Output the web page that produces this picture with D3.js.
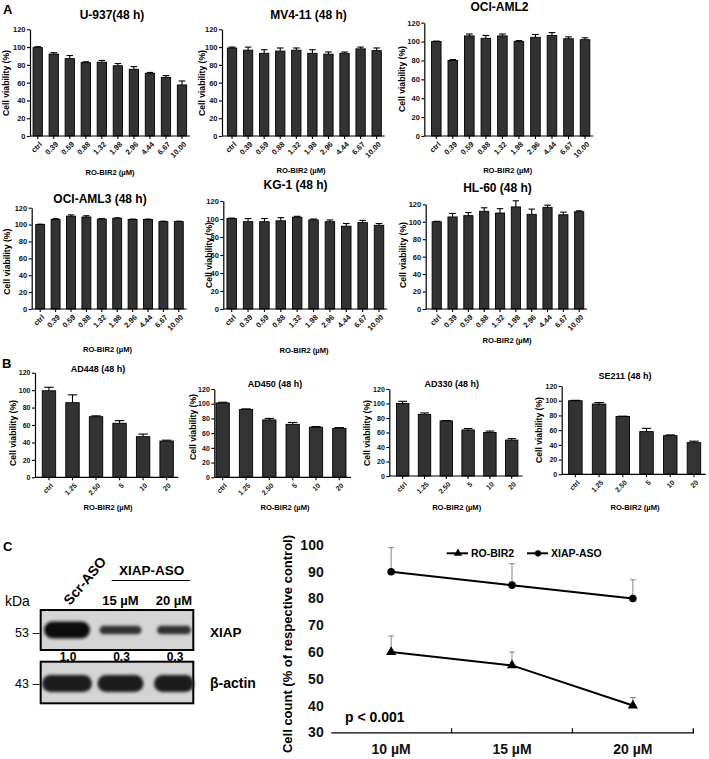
<!DOCTYPE html>
<html><head><meta charset="utf-8">
<script src="https://cdn.jsdelivr.net/npm/d3@7"></script>
<style>body{margin:0;background:#fff}svg{display:block;font-family:"Liberation Sans",Arial,sans-serif}</style>
</head><body><svg id="c" width="709" height="759"></svg>
<script>
// ---------- DATA ----------
const concA = ["ctrl","0.39","0.59","0.88","1.32","1.98","2.96","4.44","6.67","10.00"];
const concB = ["ctrl","1.25","2.50","5","10","20"];
const yTicksBar = [0,20,40,60,80,100,120];

const u937 = [99.4,92.2,87,82.5,83,79,75,70.5,66,57.4];
const u937Err = [1,1.5,3.5,1,2,2.5,3,1,2,4.5];
const mv411 = [99,96.5,93,95.5,96.5,93,92,93,98,96];
const mv411Err = [1,3.5,4,3.5,2.5,4,2.5,1.5,2,3];
const ociAml2 = [100,80,106,103.5,106,100,104.5,106.5,103,102];
const ociAml2Err = [0.5,1,2,3,2,1,3,3,2,2];
const ociAml3 = [100,106,110,109,106.5,107.5,106,106,103.5,103.5];
const ociAml3Err = [0.5,1,1.5,1.5,0.5,0.5,0.5,0.5,0.5,0.5];
const kg1 = [100.5,97,97,98,102,99,97,92,96,93];
const kg1Err = [0.5,3.5,3.5,3.5,1,1,2,3,2.5,2];
const hl60 = [100,105.5,107,112,110,117,108.5,116.5,108,111.5];
const hl60Err = [0.5,4,3.5,4,5,7,6,2.5,3,1];

const ad448 = [99.3,85.6,69.5,62,46.6,41.6];
const ad448Err = [4,9,1,3,3,1];
const ad450 = [101,92,78,72,68,66.5];
const ad450Err = [1,1,2,2.5,1,1];
const ad330 = [100,85,76,63.5,60,49.5];
const ad330Err = [3,2,0.5,2,2,2];
const se211 = [100,95.5,78.5,58,52.5,43];
const se211Err = [0.5,2,0.5,4.5,1,2];

const doseC = ["10 µM","15 µM","20 µM"];
const roBir2 = [60,55,40];
const roBir2Err = [6,5,3];
const xiapAso = [90,85,80];
const xiapAsoErr = [9,8,7];
const yTicksC = [30,40,50,60,70,80,90,100];

const blotLanes = ["Scr-ASO","15 µM","20 µM"];
const xiapLevel = [1.0,0.3,0.3];
const xiapLabels = ["1.0","0.3","0.3"];
const actinLevel = [1.0,1.0,1.0];

// ---------- DRAW ----------
const svg = d3.select("#c");
svg.append("rect").attr("width",709).attr("height",759).attr("fill","#fff");
const defs = svg.append("defs");
defs.append("filter").attr("id","blur").attr("x","-30%").attr("y","-80%").attr("width","160%").attr("height","260%")
  .append("feGaussianBlur").attr("stdDeviation",1.6);

function barChart(o){
  const g = svg.append("g");
  const y = d3.scaleLinear().domain([0,120]).range([o.y0,o.y120]);
  const x = d3.scaleBand().domain(o.cats).range([o.xs,o.xe]).paddingInner(o.pad).paddingOuter(o.pad/2);
  const bw = x.bandwidth();
  const eg = g.append("g").attr("stroke","#000").attr("stroke-width",1.1);
  o.vals.forEach((v,i)=>{
    const cx = x(o.cats[i]) + bw/2;
    eg.append("line").attr("x1",cx).attr("x2",cx).attr("y1",y(v)).attr("y2",y(v+o.errs[i]));
    eg.append("line").attr("x1",cx-bw*0.35).attr("x2",cx+bw*0.35).attr("y1",y(v+o.errs[i])).attr("y2",y(v+o.errs[i]));
  });
  g.selectAll("rect.bar").data(o.vals).join("rect").attr("class","bar")
    .attr("x",(d,i)=>x(o.cats[i])).attr("y",d=>y(d))
    .attr("width",bw).attr("height",d=>o.y0-y(d))
    .attr("fill","#333").attr("stroke","#000").attr("stroke-width",0.9);
  const ya = g.append("g").attr("transform",`translate(${o.ax},0)`)
    .call(d3.axisLeft(y).tickValues(yTicksBar).tickSize(3).tickSizeOuter(0).tickPadding(1.5));
  ya.select(".domain").attr("stroke-width",1.2);
  ya.selectAll(".tick line").attr("stroke-width",1.1);
  ya.selectAll(".tick text").attr("font-size",o.tf).attr("font-weight","bold").attr("fill","#111").attr("font-family","Liberation Sans, Arial");
  const xa = g.append("g").attr("transform",`translate(0,${o.y0})`)
    .call(d3.axisBottom(x).tickSize(3).tickSizeOuter(0));
  xa.select(".domain").remove();
  xa.append("line").attr("x1",o.ax).attr("x2",o.xe).attr("y1",0).attr("y2",0).attr("stroke","#000").attr("stroke-width",1.2);
  xa.selectAll(".tick line").attr("stroke-width",1.1);
  xa.selectAll(".tick text").attr("font-size",o.xf).attr("font-weight","bold").attr("fill","#111")
    .attr("font-family","Liberation Sans, Arial")
    .attr("x",0).attr("y",0).attr("dy","0.35em").attr("text-anchor","end")
    .attr("transform",`translate(3,7) rotate(-45)`);
  g.append("text").attr("x",o.tx).attr("y",o.ty).attr("text-anchor","middle")
    .attr("font-size",o.titleF).attr("font-weight","bold").text(o.title);
  g.append("text").attr("transform",`translate(${o.ylx},${o.yly}) rotate(-90)`).attr("text-anchor","middle")
    .attr("dy","0.35em").attr("font-size",8.6).attr("font-weight","bold").text("Cell viability (%)");
  g.append("text").attr("x",o.xlx).attr("y",o.xly).attr("text-anchor","middle")
    .attr("font-size",7.6).attr("font-weight","bold").text("RO-BIR2 (µM)");
}

const A = {cats:concA, tf:7.5, xf:7.5, titleF:12, pad:0.42};
barChart({...A, vals:u937, errs:u937Err, title:"U-937(48 h)", ax:30, y0:136, y120:29.3, xs:29.7, xe:190,
  tx:112, ty:19, ylx:5.5, yly:83, xlx:110, xly:175});
barChart({...A, vals:mv411, errs:mv411Err, title:"MV4-11 (48 h)", ax:222, y0:136, y120:29.3, xs:224, xe:384.7,
  tx:308.5, ty:18.5, ylx:202, yly:83, xlx:301, xly:172.5});
barChart({...A, vals:ociAml2, errs:ociAml2Err, title:"OCI-AML2", ax:424.3, y0:136, y120:22.7, xs:428, xe:593.3,
  tx:499.5, ty:10.5, ylx:401.5, yly:79, xlx:507.7, xly:172.5});
barChart({...A, vals:ociAml3, errs:ociAml3Err, title:"OCI-AML3 (48 h)", ax:31.7, y0:309, y120:207.7, xs:32.5, xe:186.5,
  tx:100, ty:203, ylx:6.7, yly:261.7, xlx:107.5, xly:351.7});
barChart({...A, vals:kg1, errs:kg1Err, title:"KG-1 (48 h)", ax:223.3, y0:309, y120:201, xs:223.5, xe:387.2,
  tx:295.5, ty:189, ylx:209, yly:255, xlx:304, xly:353});
barChart({...A, vals:hl60, errs:hl60Err, title:"HL-60 (48 h)", ax:425.7, y0:309, y120:204.3, xs:428.8, xe:587.1,
  tx:497.5, ty:191.5, ylx:403, yly:255, xlx:507, xly:343});

const B = {cats:concB, tf:7, xf:7, titleF:9, pad:0.43};
barChart({...B, vals:ad448, errs:ad448Err, title:"AD448 (48 h)", ax:35, y0:477.3, y120:372.7, xs:37.2, xe:178.4,
  tx:98, ty:371.5, ylx:13.3, yly:433, xlx:108, xly:510});
barChart({...B, vals:ad450, errs:ad450Err, title:"AD450 (48 h)", ax:214.3, y0:477.3, y120:389, xs:211, xe:351,
  tx:275, ty:386.5, ylx:193, yly:427, xlx:285, xly:510});
barChart({...B, vals:ad330, errs:ad330Err, title:"AD330 (48 h)", ax:389.3, y0:476, y120:389, xs:391.8, xe:522.6,
  tx:451.7, ty:387, ylx:367, yly:433, xlx:456.7, xly:510});
barChart({...B, vals:se211, errs:se211Err, title:"SE211 (48 h)", ax:561.7, y0:474.3, y120:386, xs:563.5, xe:705.8,
  tx:625, ty:379, ylx:539, yly:430, xlx:635, xly:510});

[["A",3,14],["B",2,368],["C",3,551]].forEach(([t,x,y])=>{
  svg.append("text").attr("x",x).attr("y",y).attr("font-size",13).attr("font-weight","bold").text(t);
});

// ---------- Western blot ----------
const wb = svg.append("g");
const lane = d3.scalePoint().domain(blotLanes).range([67,174]);
wb.append("text").attr("x",5).attr("y",606).attr("font-size",14).text("kDa");
wb.append("text").attr("transform","translate(70,606) rotate(-50)").attr("font-size",14).attr("font-weight","bold").text("Scr-ASO");
wb.append("text").attr("x",151.7).attr("y",575).attr("text-anchor","middle").attr("font-size",13.5).attr("font-weight","bold").text("XIAP-ASO");
wb.append("line").attr("x1",111.7).attr("x2",190).attr("y1",580.5).attr("y2",580.5).attr("stroke","#000").attr("stroke-width",1);
blotLanes.slice(1).forEach(l=>{
  wb.append("text").attr("x",lane(l)).attr("y",605).attr("text-anchor","middle").attr("font-size",13).attr("font-weight","bold").text(l);
});
function blot(y0,y1,levels,kind){
  wb.append("rect").attr("x",40.7).attr("y",y0).attr("width",152.6).attr("height",y1-y0)
    .attr("fill","#d4d4d4").attr("stroke","#000").attr("stroke-width",2);
  const bg = wb.append("g").attr("filter","url(#blur)");
  const cy = (y0+y1)/2;
  levels.forEach((lv,i)=>{
    const cx = lane(blotLanes[i]);
    const h = kind==="xiap" ? 5+12*lv : 17;
    const w = kind==="xiap" ? (i===0?46:(i===1?42:34)) : (i===0?50:(i===1?46:40));
    bg.append("rect").attr("x",cx-w/2).attr("y",cy-h/2+ (kind==="xiap"?0:1)).attr("width",w).attr("height",h)
      .attr("rx",h/2).attr("fill", kind==="xiap" ? (lv>0.5?"#111":"#333") : "#1d1d1d");
  });
}
blot(610,650,xiapLevel,"xiap");
blot(661.7,703.3,actinLevel,"actin");
wb.append("text").attr("x",15).attr("y",636.5).attr("font-size",12.5).text("53 –");
wb.append("text").attr("x",15).attr("y",688).attr("font-size",12.5).text("43 –");
wb.append("text").attr("x",210).attr("y",636.5).attr("font-size",13.5).attr("font-weight","bold").text("XIAP");
wb.append("text").attr("x",210).attr("y",688).attr("font-size",14).attr("font-weight","bold").text("β-actin");
xiapLabels.forEach((t,i)=>{
  wb.append("text").attr("x",lane(blotLanes[i])+1).attr("y",661).attr("text-anchor","middle").attr("font-size",12).attr("font-weight","bold").text(t);
});

// ---------- Line chart C ----------
const lc = svg.append("g");
const xC = d3.scaleBand().domain(doseC).range([330.7,693.3]);
const yC = d3.scaleLinear().domain([30,100]).range([732.3,545]);
const cxC = d => xC(d)+xC.bandwidth()/2;
const yaC = lc.append("g").attr("transform","translate(330.7,0)")
  .call(d3.axisLeft(yC).tickValues(yTicksC).tickSize(0).tickPadding(7).tickSizeOuter(0));
yaC.select(".domain").remove();
yaC.selectAll(".tick text").attr("font-size",14).attr("font-weight","bold").attr("fill","#111").attr("font-family","Liberation Sans, Arial");
const xaC = lc.append("g").attr("transform","translate(0,732.3)")
  .call(d3.axisBottom(xC).tickSize(0).tickPadding(12).tickSizeOuter(0));
xaC.select(".domain").attr("stroke-width",1.3);
xaC.selectAll(".tick text").attr("font-size",14).attr("font-weight","bold").attr("fill","#111").attr("font-family","Liberation Sans, Arial");
doseC.forEach(d=>{
  const xb = xC(d)+xC.bandwidth();
  lc.append("line").attr("x1",xb).attr("x2",xb).attr("y1",732.3-4).attr("y2",732.3+1).attr("stroke","#000").attr("stroke-width",1.3);
});
lc.append("text").attr("transform","translate(287,644) rotate(-90)").attr("text-anchor","middle").attr("dy","0.35em")
  .attr("font-size",13).attr("font-weight","bold").text("Cell count (% of respective control)");
function series(vals,errs,marker){
  const eg = lc.append("g").attr("stroke","#777").attr("stroke-width",0.9);
  vals.forEach((v,i)=>{
    const x = cxC(doseC[i]);
    eg.append("line").attr("x1",x).attr("x2",x).attr("y1",yC(v)).attr("y2",yC(v+errs[i]));
    eg.append("line").attr("x1",x-3).attr("x2",x+3).attr("y1",yC(v+errs[i])).attr("y2",yC(v+errs[i]));
  });
  lc.append("path").datum(vals).attr("fill","none").attr("stroke","#000").attr("stroke-width",2)
    .attr("d",d3.line().x((d,i)=>cxC(doseC[i])).y(d=>yC(d)));
  const sym = marker==="tri" ? d3.symbolTriangle : d3.symbolCircle;
  lc.selectAll(null).data(vals).join("path")
    .attr("transform",(d,i)=>`translate(${cxC(doseC[i])},${yC(d)})`)
    .attr("d",d3.symbol().type(sym).size(45)).attr("fill","#000");
}
series(roBir2,roBir2Err,"tri");
series(xiapAso,xiapAsoErr,"circ");
const lg = lc.append("g");
[["RO-BIR2",446.7,468,d3.symbolTriangle,458],["XIAP-ASO",527,548,d3.symbolCircle,538]].forEach(([t,x1,x2,s,mx])=>{
  lg.append("line").attr("x1",x1).attr("x2",x2).attr("y1",553.3).attr("y2",553.3).attr("stroke","#000").attr("stroke-width",2);
  lg.append("path").attr("transform",`translate(${mx},553.3)`).attr("d",d3.symbol().type(s).size(30)).attr("fill","#000");
  lg.append("text").attr("x",x2+3).attr("y",557).attr("font-size",10.5).attr("font-weight","bold").text(t);
});
lc.append("text").attr("x",345).attr("y",722).attr("font-size",14).attr("font-weight","bold").text("p < 0.001");
</script></body></html>
